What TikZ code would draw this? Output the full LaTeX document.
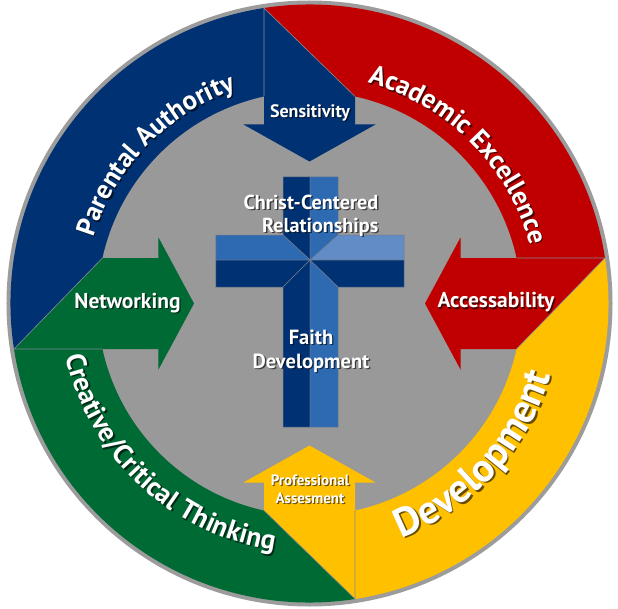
\documentclass[tikz,border=0pt]{standalone}
\usepackage{fontspec}
\setmainfont{PT Sans}
\usetikzlibrary{decorations.text}

\definecolor{ringblue}{RGB}{0,50,115}
\definecolor{ringred}{RGB}{192,0,0}
\definecolor{ringyellow}{RGB}{255,192,0}
\definecolor{ringgreen}{RGB}{0,106,53}
\definecolor{discgray}{RGB}{153,153,153}
\definecolor{rimgray}{RGB}{156,156,156}
\definecolor{seamgray}{RGB}{132,138,150}
\definecolor{crossdark}{RGB}{0,50,115}
\definecolor{crossmid}{RGB}{46,106,178}
\definecolor{crosslight}{RGB}{98,140,198}
\definecolor{crossedge}{RGB}{110,120,140}

% One coloured quarter of the ring, drawn with its arrow at the top
% pointing to the centre, then turned into place.
% #1 rotation, #2 colour, #3 arrow-head base, #4 arrow tip
\newcommand\ringpart[4]{%
  \begin{scope}[rotate=#1]
    \fill[#2] (188.76:299) arc[start angle=188.76, end angle=98.76, radius=299]
      -- (45.5,207.06) -- (45.5,#3) -- (66,#3) -- (0,#4) -- (-66,#3) -- (-45.5,#3)
      -- (-45.5,207.06) arc[start angle=102.39, end angle=167.61, radius=212] -- cycle;
  \end{scope}}

% Lettering set along an arc of the ring, with a soft dark shadow.
% #1 start angle, #2 end angle, #3 baseline radius, #4 size, #5 text
\newcommand\ringlabel[5]{%
  \begin{scope}[opacity=.6]
    \path[decorate, decoration={text along path, text align=center,
      text={|\bfseries\fontsize{#4}{#4}\selectfont\color{black}|#5}}]
      ([shift={(1.5,-1.5)}]#1:#3) arc[start angle=#1, end angle=#2, radius=#3];
  \end{scope}
  \path[decorate, decoration={text along path, text align=center,
    text={|\bfseries\fontsize{#4}{#4}\selectfont\color{white}|#5}}]
    (#1:#3) arc[start angle=#1, end angle=#2, radius=#3];}

\begin{document}
\begin{tikzpicture}[x=1pt, y=1pt,
  seam/.style={draw=seamgray, line width=0.6pt},
  facet/.style={draw=crossedge, line width=0.5pt},
  lbl/.style={text=white, inner sep=0pt, align=center,
    font=\bfseries\fontsize{18}{21}\selectfont},
  widelbl/.style={lbl, font=\bfseries\fontsize{21.5}{24}\selectfont},
  smalllbl/.style={lbl, font=\bfseries\fontsize{15}{18}\selectfont},
  crosslbl/.style={lbl, font=\bfseries\fontsize{20.2}{23}\selectfont},
  faithlbl/.style={lbl, font=\bfseries\fontsize{20.5}{24}\selectfont},
  shadowed/.style={text=black, text opacity=.6}]

\fill[white] (-309.5,-304.5) rectangle (308.5,303.5);
\useasboundingbox (-309.5,-304.5) rectangle (308.5,303.5);

% rim and inner disc
\fill[rimgray] (0,0) circle[radius=303];
\fill[discgray] (0,0) circle[radius=299];

% the four quarters of the ring
\ringpart{0}{ringblue}{179}{142}
\ringpart{-90}{ringred}{151}{115.5}
\ringpart{180}{ringyellow}{179}{142}
\ringpart{90}{ringgreen}{151}{115.5}

% seams where each quarter folds into its arrow
\foreach \r in {0,-90,180,90}{
  \draw[seam, rotate=\r] (-45.5,207.06) -- (98.76:299) -- (45.5,207.06);
}

% bevelled cross
\begin{scope}[facet]
  \filldraw[fill=crossdark]  (-26.5,126.5) -- (0.5,126.5) -- (0.5,43.5) -- (-26.5,68.5) -- cycle;
  \filldraw[fill=crossmid]   (0.5,126.5) -- (28.5,126.5) -- (28.5,68.5) -- (0.5,43.5) -- cycle;
  \filldraw[fill=crossmid]   (-93.5,68.5) -- (-26.5,68.5) -- (0.5,43.5) -- (-93.5,43.5) -- cycle;
  \filldraw[fill=crosslight] (28.5,68.5) -- (94.5,68.5) -- (94.5,43.5) -- (0.5,43.5) -- cycle;
  \filldraw[fill=crossdark]  (-93.5,43.5) -- (0.5,43.5) -- (-26.5,16.5) -- (-93.5,16.5) -- cycle;
  \filldraw[fill=crossdark]  (0.5,43.5) -- (94.5,43.5) -- (94.5,16.5) -- (28.5,16.5) -- cycle;
  \filldraw[fill=crossdark]  (-26.5,16.5) -- (0.5,43.5) -- (0.5,-123.5) -- (-26.5,-123.5) -- cycle;
  \filldraw[fill=crossmid]   (0.5,43.5) -- (28.5,16.5) -- (28.5,-123.5) -- (0.5,-123.5) -- cycle;
\end{scope}

% lettering around the ring
\ringlabel{180}{92}{226}{27}{Parental Authority}
\ringlabel{89}{1}{228}{27}{Academic Excellence}
\ringlabel{-95}{10}{252}{40}{Development}
\ringlabel{172}{282}{249}{27.6}{Creative/Critical Thinking}

% arrow labels
\node[lbl, shadowed] (sensShadow) at (1.9,189.1) {Sensitivity};
\node[lbl] (sens) at (0.5,190.5) {Sensitivity};
\node[widelbl, shadowed] (accShadow) at (187.9,-0.1) {Accessability};
\node[widelbl] (acc) at (186.5,1.3) {Accessability};
\node[widelbl, shadowed] (netShadow) at (-180.6,-0.6) {Networking};
\node[widelbl] (net) at (-182,0.8) {Networking};
\node[smalllbl, shadowed] (profShadow) at (1.7,-186.7) {Professional\\Assesment};
\node[smalllbl] (prof) at (0.5,-185.5) {Professional\\Assesment};

% labels on the cross
\node[crosslbl, shadowed, align=right, anchor=east] (relShadow) at (70.4,86.6) {Christ-Centered\\Relationships};
\node[crosslbl, align=right, anchor=east] (rel) at (69,88) {Christ-Centered\\Relationships};
\node[faithlbl, shadowed] (faithShadow) at (2.9,-48.9) {Faith\\Development};
\node[faithlbl] (faith) at (1.5,-47.5) {Faith\\Development};
\end{tikzpicture}
\end{document}
